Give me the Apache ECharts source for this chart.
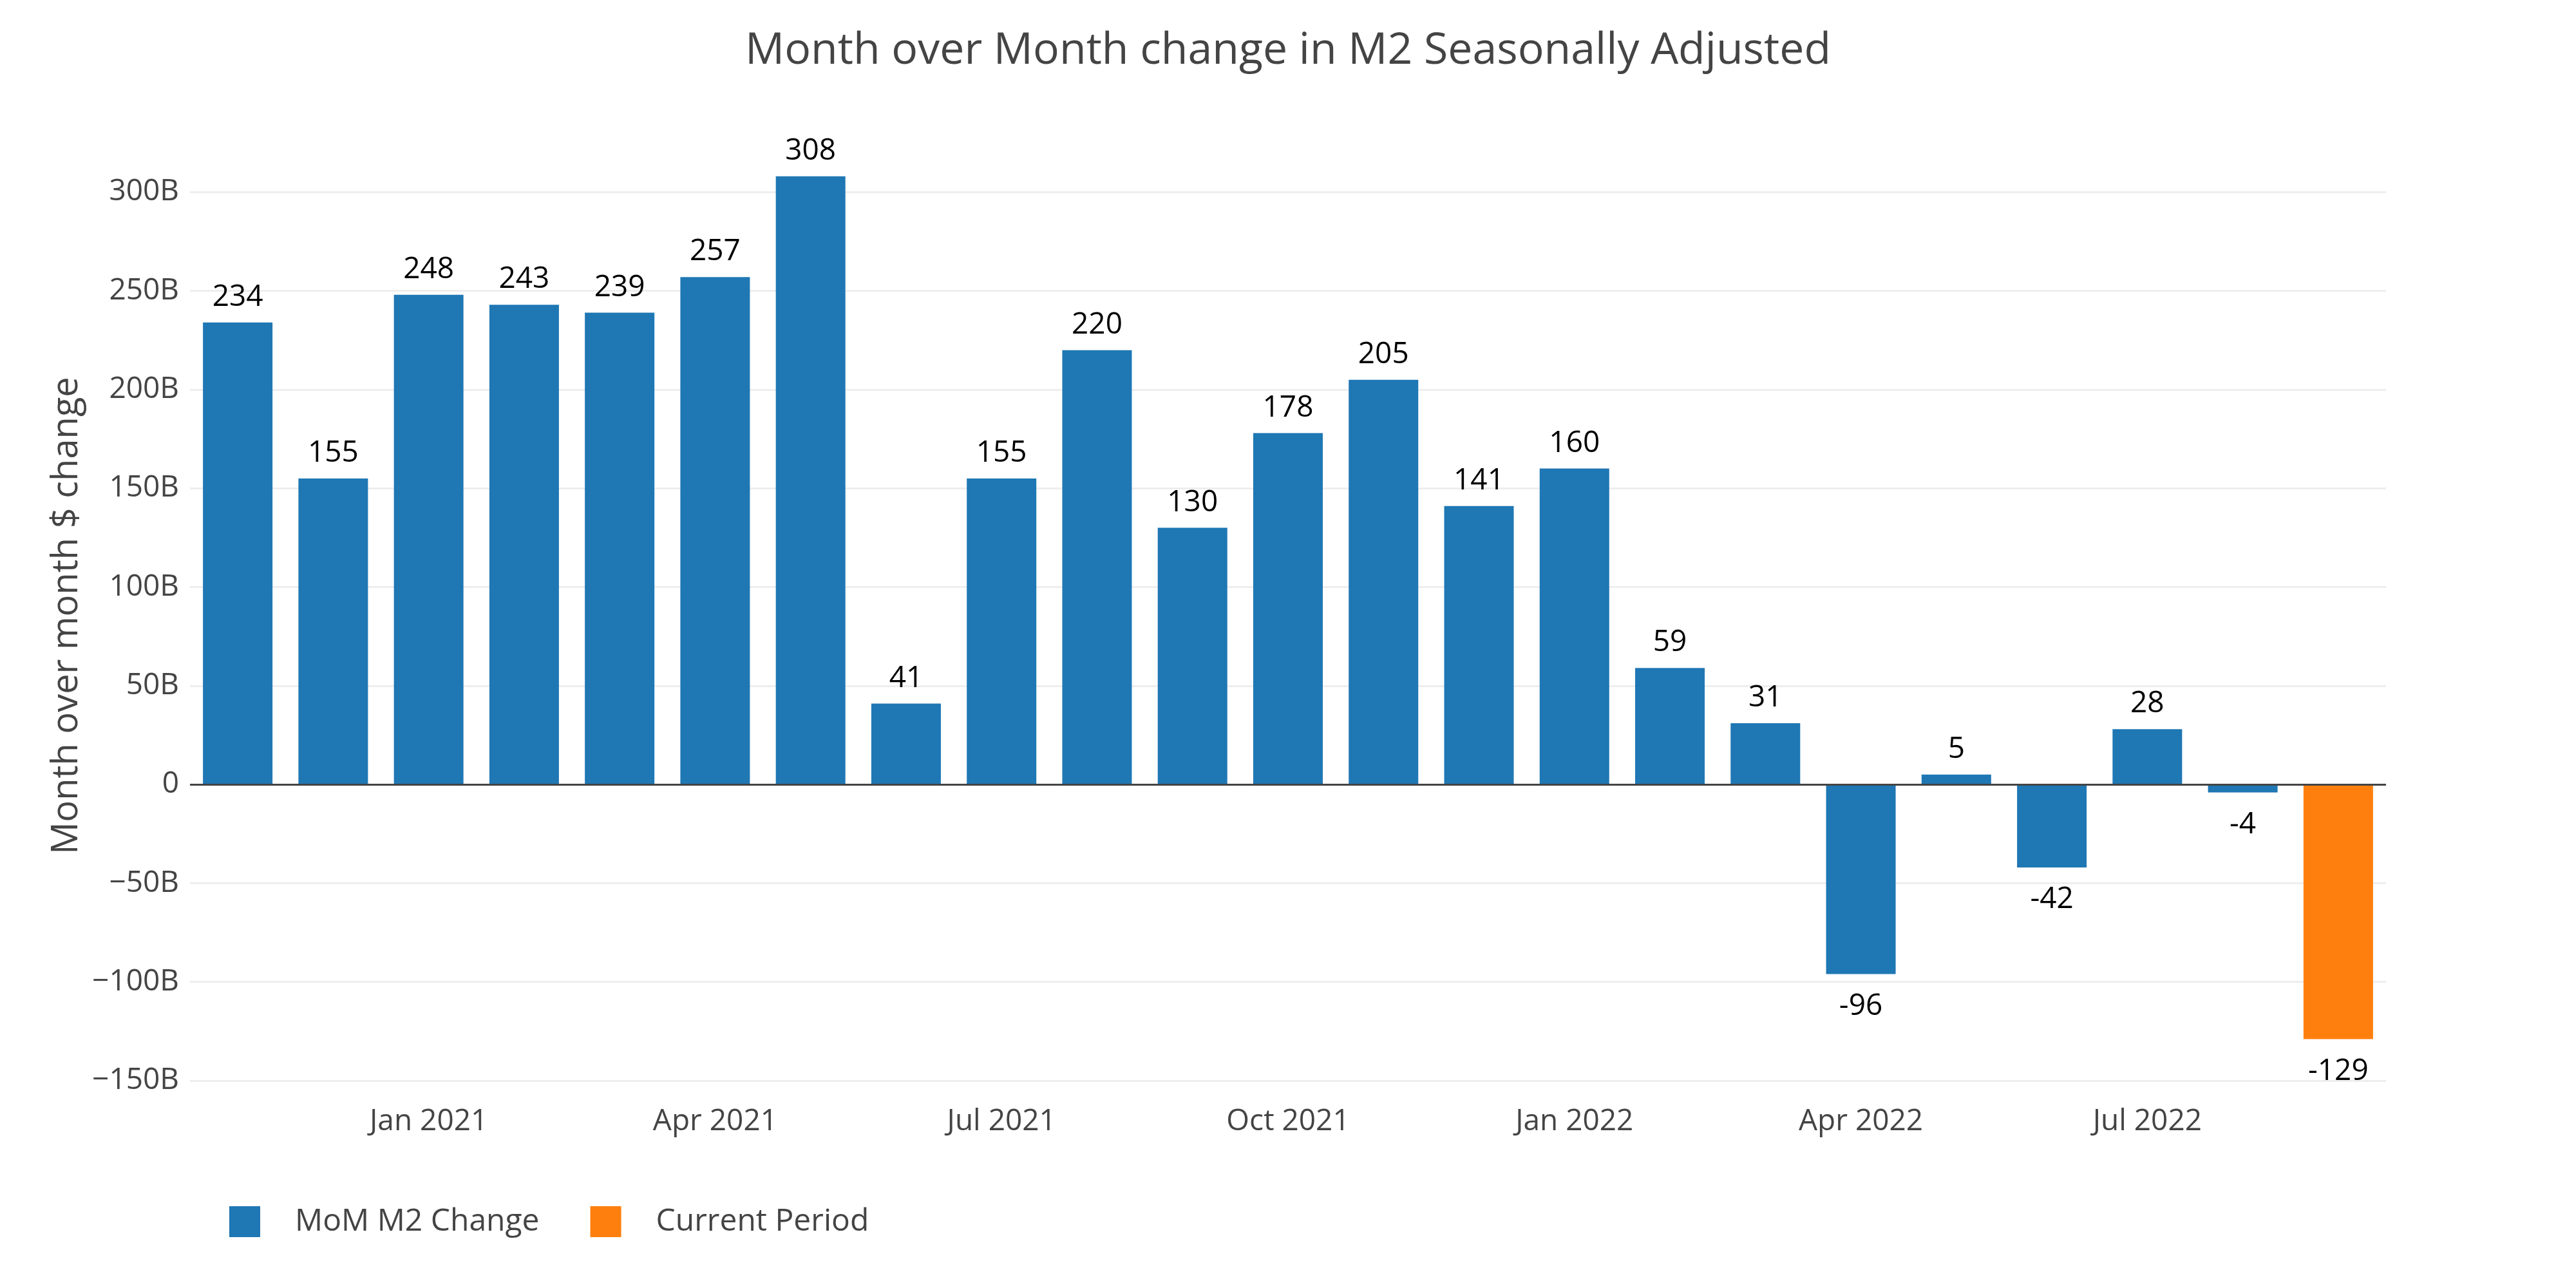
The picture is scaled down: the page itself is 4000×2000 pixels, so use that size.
<!DOCTYPE html>
<html>
<head>
<meta charset="utf-8">
<script src="https://cdn.jsdelivr.net/npm/echarts@6/dist/echarts.min.js"></script>
<style>html,body{margin:0;padding:0;background:#fff}#c{width:4000px;height:2000px}</style>
</head>
<body>
<div id="c"></div>
<script>
const months = ["Nov 2020","Dec 2020","Jan 2021","Feb 2021","Mar 2021","Apr 2021","May 2021","Jun 2021","Jul 2021","Aug 2021","Sep 2021","Oct 2021","Nov 2021","Dec 2021","Jan 2022","Feb 2022","Mar 2022","Apr 2022","May 2022","Jun 2022","Jul 2022","Aug 2022","Sep 2022"];
const momChange = [234,155,248,243,239,257,308,41,155,220,130,178,205,141,160,59,31,-96,5,-42,28,-4];
const currentPeriod = [-129];
const yTicks = [-150,-100,-50,0,50,100,150,200,250,300];

const FONT = 'Open Sans';
const item = v => v === null ? null : {value: v, label: {distance: v < 0 ? 27 : 16}};
const blueData = momChange.map(item).concat(currentPeriod.map(() => null));
const orangeData = momChange.map(() => null).concat(currentPeriod.map(item));

const chart = echarts.init(document.getElementById('c'));
chart.setOption({
  backgroundColor: '#fff',
  animation: false,
  title: {
    text: 'Month over Month change in M2 Seasonally Adjusted',
    left: 'center',
    top: 41,
    textStyle: {fontFamily: FONT, fontSize: 68, fontWeight: 'normal', color: '#444'}
  },
  legend: {
    left: 356,
    top: 1873,
    padding: 0,
    itemWidth: 48,
    itemHeight: 48,
    itemGap: 79,
    icon: 'rect',
    textStyle: {fontFamily: FONT, fontSize: 48, color: '#444', padding: [0, 0, 0, 49]},
    data: ['MoM M2 Change', 'Current Period']
  },
  grid: {left: 295, right: 295, top: 234, bottom: 322},
  xAxis: {
    type: 'category',
    data: months,
    boundaryGap: true,
    axisLine: {show: false, onZero: false},
    axisTick: {show: false},
    splitLine: {show: false},
    axisLabel: {
      interval: (i, v) => /^(Jan|Apr|Jul|Oct)/.test(v),
      margin: 41,
      fontFamily: FONT, fontSize: 46, color: '#444'
    }
  },
  yAxis: {
    type: 'value',
    min: -150,
    max: 321,
    interval: 50,
    name: 'Month over month $ change',
    nameLocation: 'middle',
    nameGap: 130,
    nameTextStyle: {fontFamily: FONT, fontSize: 56, color: '#444'},
    axisLine: {show: false},
    axisTick: {show: false},
    axisLabel: {
      showMaxLabel: false,
      margin: 17,
      fontFamily: FONT, fontSize: 46, color: '#444',
      formatter: v => yTicks.includes(v) ? (v === 0 ? '0' : (v < 0 ? '\u2212' + Math.abs(v) : v) + 'B') : ''
    },
    splitLine: {show: true, showMaxLine: false, lineStyle: {color: '#eeeeee', width: 3}}
  },
  series: [
    {
      name: 'MoM M2 Change',
      type: 'bar',
      data: blueData,
      barWidth: 108,
      barGap: '-100%',
      itemStyle: {color: '#1f77b4'},
      label: {
        show: true, position: 'outside', distance: 16,
        fontFamily: FONT, fontSize: 46, color: '#000',
        formatter: p => String(p.value)
      },
      markLine: {
        silent: true,
        symbol: ['none', 'none'],
        label: {show: false},
        lineStyle: {color: '#444', width: 3, type: 'solid'},
        data: [{yAxis: 0}],
        z: 10
      }
    },
    {
      name: 'Current Period',
      type: 'bar',
      data: orangeData,
      barWidth: 108,
      barGap: '-100%',
      itemStyle: {color: '#ff7f0e'},
      label: {
        show: true, position: 'outside', distance: 16,
        fontFamily: FONT, fontSize: 46, color: '#000',
        formatter: p => String(p.value)
      }
    }
  ]
});
</script>
</body>
</html>
